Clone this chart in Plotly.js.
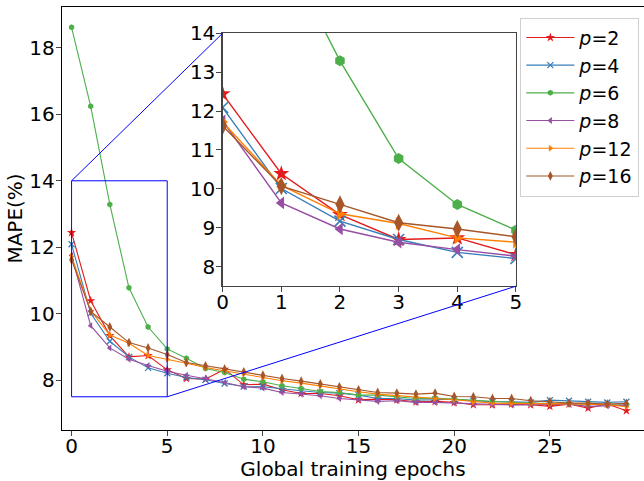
<!DOCTYPE html>
<html>
<head>
<meta charset="utf-8">
<script src="https://cdn.plot.ly/plotly-3.0.1.min.js"></script>
<style>html,body{margin:0;padding:0;background:#fff;}#chart{width:644px;height:481px;}</style>
</head>
<body>
<div id="chart"></div>
<script>
// ---- data ----
const epochs = Array.from({length: 30}, (_, i) => i);
const seriesNames = ["<i>p</i>=2", "<i>p</i>=4", "<i>p</i>=6", "<i>p</i>=8", "<i>p</i>=12", "<i>p</i>=16"];
const p2  = [12.44,10.39,9.34,8.70,8.74,8.31,8.05,8.03,8.33,7.86,7.88,7.71,7.60,7.60,7.53,7.41,7.43,7.41,7.35,7.36,7.33,7.26,7.26,7.28,7.26,7.21,7.28,7.16,7.28,7.08];
const p4  = [12.09,10.01,9.17,8.70,8.37,8.21,8.08,8.01,7.90,7.81,7.80,7.73,7.68,7.63,7.61,7.55,7.45,7.45,7.40,7.41,7.43,7.38,7.35,7.35,7.33,7.40,7.38,7.35,7.33,7.35];
const p6  = [18.62,16.24,13.29,10.78,9.60,8.94,8.66,8.35,8.23,8.03,7.95,7.83,7.75,7.66,7.63,7.55,7.55,7.50,7.45,7.46,7.43,7.38,7.35,7.33,7.30,7.30,7.30,7.28,7.26,7.25];
const p8  = [11.75,9.64,8.97,8.63,8.44,8.27,8.15,8.05,7.93,7.80,7.76,7.63,7.58,7.53,7.45,7.41,7.36,7.38,7.33,7.33,7.31,7.28,7.25,7.25,7.26,7.26,7.28,7.21,7.23,7.25];
const p12 = [11.72,10.09,9.36,9.11,8.74,8.63,8.51,8.38,8.28,8.20,8.08,7.98,7.91,7.82,7.73,7.65,7.58,7.53,7.50,7.45,7.41,7.35,7.31,7.30,7.30,7.28,7.30,7.28,7.26,7.20];
const p16 = [11.62,10.07,9.60,9.13,8.97,8.77,8.53,8.43,8.33,8.25,8.15,8.05,7.97,7.89,7.80,7.71,7.63,7.61,7.58,7.61,7.51,7.50,7.45,7.45,7.38,7.35,7.31,7.31,7.28,7.30];
const xTicks = [0, 5, 10, 15, 20, 25];
const yTicks = [8, 10, 12, 14, 16, 18];
const insetXTicks = [0, 1, 2, 3, 4, 5];
const insetYTicks = [8, 9, 10, 11, 12, 13, 14];
const zoomBox = {x0: 0, x1: 5, y0: 7.5, y1: 14};

// ---- styles ----
const allSeries = [p2, p4, p6, p8, p12, p16];
const colors = ["#e41a1c", "#377eb8", "#4daf4a", "#984ea3", "#ff7f00", "#a65628"];
const symbols = ["star", "x-thin", "hexagon", "triangle-left", "triangle-right", "diamond-tall"];
const mainSizes = [7, 6, 6, 6, 6, 7];
const insetSizes = [12, 11, 11, 11, 11, 13];

const xRange = [-0.5, 29.92];
const yRange = [6.5, 19.23];
const insetDomX = [0.276, 0.780];
const insetDomY = [0.340, 0.938];

const traces = [];
allSeries.forEach((vals, i) => {
  const isX = symbols[i] === "x-thin";
  traces.push({
    x: epochs, y: vals, xaxis: "x", yaxis: "y", type: "scatter", mode: "lines+markers",
    name: seriesNames[i], legendgroup: "g" + i,
    line: {color: colors[i], width: 1.1},
    marker: {symbol: symbols[i], size: mainSizes[i], color: colors[i],
             line: {color: colors[i], width: isX ? 1.3 : 0}}
  });
});
allSeries.forEach((vals, i) => {
  const isX = symbols[i] === "x-thin";
  const n = zoomBox.x1 + 1;
  traces.push({
    x: epochs.slice(0, n), y: vals.slice(0, n), xaxis: "x2", yaxis: "y2", type: "scatter", mode: "lines+markers",
    showlegend: false, legendgroup: "g" + i, cliponaxis: true,
    line: {color: colors[i], width: 1.4},
    marker: {symbol: symbols[i], size: insetSizes[i], color: colors[i],
             line: {color: colors[i], width: isX ? 1.6 : 0}}
  });
});

// paper coords of main data points
const px = v => (v - xRange[0]) / (xRange[1] - xRange[0]);
const py = v => (v - yRange[0]) / (yRange[1] - yRange[0]);

const fontFam = "DejaVu Sans, sans-serif";
const FS = 20;
const layout = {
  width: 644, height: 481,
  margin: {l: 62, r: 0, t: 7, b: 51},
  paper_bgcolor: "#fff", plot_bgcolor: "rgba(0,0,0,0)",
  font: {family: fontFam, size: FS, color: "#000"},
  showlegend: true,
  legend: {x: 0.992, xanchor: "right", y: 0.975, yanchor: "top",
           bgcolor: "#fff", bordercolor: "#d0d0d0", borderwidth: 1,
           font: {family: fontFam, size: 19}, tracegroupgap: 0, itemwidth: 48},
  xaxis: {domain: [0, 1], range: xRange, tickvals: xTicks, ticks: "outside", ticklen: 5,
          ticklabelstandoff: -7,
          showgrid: false, zeroline: false, showline: true, linecolor: "#000", linewidth: 1.3, mirror: true,
          tickfont: {size: FS}, title: {text: "Global training epochs", font: {size: FS}, standoff: 4}, automargin: false},
  yaxis: {domain: [0, 1], range: yRange, tickvals: yTicks, ticks: "outside", ticklen: 5,
          ticklabelstandoff: -3,
          showgrid: false, zeroline: false, showline: true, linecolor: "#000", linewidth: 1.3, mirror: true,
          tickfont: {size: FS}, title: {text: "MAPE(%)", font: {size: FS}, standoff: 1}, automargin: false},
  xaxis2: {domain: insetDomX, anchor: "y2", range: [zoomBox.x0, zoomBox.x1], tickvals: insetXTicks,
           ticks: "outside", ticklen: 5, ticklabelstandoff: -7, showgrid: false, zeroline: false, showline: true,
           linecolor: "#444", linewidth: 1.3, mirror: true, tickfont: {size: FS}},
  yaxis2: {domain: insetDomY, anchor: "x2", range: [zoomBox.y0, zoomBox.y1], tickvals: insetYTicks,
           ticks: "outside", ticklen: 5, ticklabelstandoff: -3, showgrid: false, zeroline: false, showline: true,
           linecolor: "#444", linewidth: 1.3, mirror: true, tickfont: {size: FS}},
  shapes: [
    {type: "rect", xref: "x", yref: "y", x0: zoomBox.x0, x1: zoomBox.x1, y0: zoomBox.y0, y1: zoomBox.y1,
     line: {color: "#0000ff", width: 1}, fillcolor: "rgba(0,0,0,0)"},
    {type: "line", xref: "paper", yref: "paper", x0: px(zoomBox.x0), y0: py(zoomBox.y1), x1: insetDomX[0], y1: insetDomY[1],
     line: {color: "#0000ff", width: 1}},
    {type: "line", xref: "paper", yref: "paper", x0: px(zoomBox.x1), y0: py(zoomBox.y0), x1: insetDomX[1], y1: insetDomY[0],
     line: {color: "#0000ff", width: 1}}
  ]
};

Plotly.newPlot("chart", traces, layout, {displayModeBar: false, staticPlot: true});
</script>
</body>
</html>
